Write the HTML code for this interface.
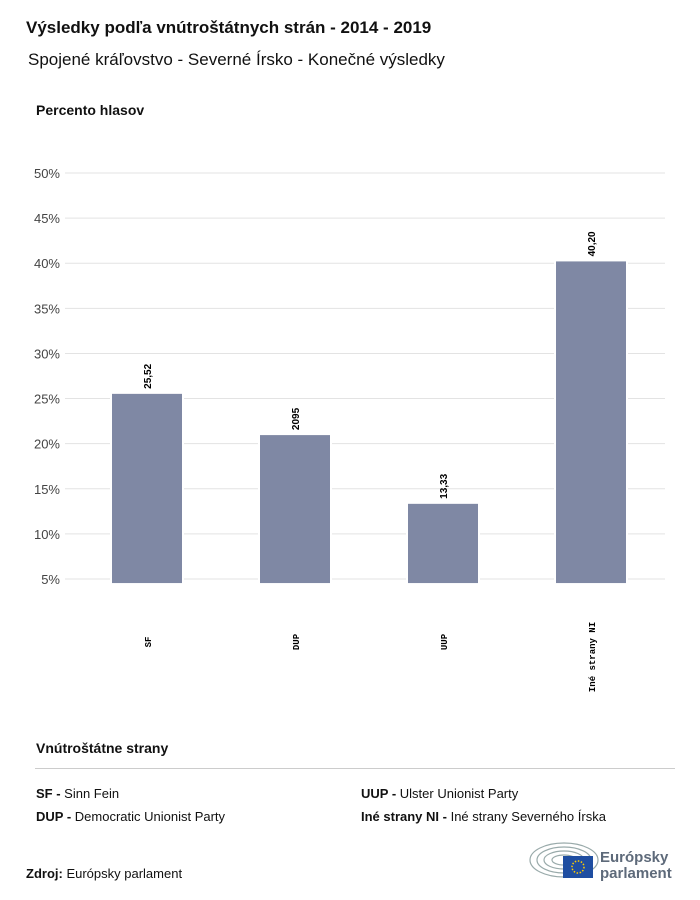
<!DOCTYPE html>
<html><head><meta charset="utf-8">
<style>
body{margin:0;background:#fff;font-family:"Liberation Sans",sans-serif;color:#111;}
#wrap{position:relative;width:700px;height:900px;overflow:hidden;}
.t{position:absolute;white-space:nowrap;}
</style></head>
<body>
<div id="wrap">
<div class="t" style="left:26px;top:18px;font-size:17px;font-weight:bold;">Výsledky podľa vnútroštátnych strán - 2014 - 2019</div>
<div class="t" style="left:28px;top:50px;font-size:17px;">Spojené kráľovstvo - Severné Írsko - Konečné výsledky</div>
<div class="t" style="left:36px;top:102px;font-size:14px;font-weight:bold;">Percento hlasov</div>
<svg id="chart" width="700" height="720" style="position:absolute;left:0;top:0"></svg>
<div class="t" style="left:36px;top:740px;font-size:14px;font-weight:bold;">Vnútroštátne strany</div>
<div style="position:absolute;left:35px;top:768px;width:640px;height:1px;background:#ccc;"></div>
<div class="t" style="left:36px;top:786px;font-size:13px;"><b>SF -</b> Sinn Fein</div>
<div class="t" style="left:36px;top:809px;font-size:13px;"><b>DUP -</b> Democratic Unionist Party</div>
<div class="t" style="left:361px;top:786px;font-size:13px;"><b>UUP -</b> Ulster Unionist Party</div>
<div class="t" style="left:361px;top:809px;font-size:13px;"><b>Iné strany NI -</b> Iné strany Severného Írska</div>
<div class="t" style="left:26px;top:866px;font-size:13px;"><b>Zdroj:</b> Európsky parlament</div>
<svg width="150" height="44" style="position:absolute;left:528px;top:840px">
 <g fill="none" stroke="#9aa" stroke-width="1.2">
  <ellipse cx="36" cy="20" rx="34" ry="17"/><ellipse cx="36" cy="20" rx="27" ry="13"/><ellipse cx="36" cy="20" rx="20" ry="9"/><ellipse cx="36" cy="20" rx="12" ry="5"/>
 </g>
 <rect x="35" y="16" width="30" height="22" fill="#1f4ea1"/>
 <circle cx="50" cy="27" r="6" fill="none" stroke="#fc0" stroke-width="1.5" stroke-dasharray="1.5 1.6"/>
 <text x="72" y="22" font-size="15" font-weight="bold" fill="#5e6a7a" font-family="Liberation Sans,sans-serif">Európsky</text>
 <text x="72" y="38" font-size="15" font-weight="bold" fill="#5e6a7a" font-family="Liberation Sans,sans-serif">parlament</text>
</svg>
</div>
<script>
const categories=["SF","DUP","UUP","Iné strany NI"];
const values=[25.52,20.95,13.33,40.20];
const valueLabels=["25,52","2095","13,33","40,20"];
const yTicks=[5,10,15,20,25,30,35,40,45,50];
const yTickLabels=["5%","10%","15%","20%","25%","30%","35%","40%","45%","50%"];
const NS="http://www.w3.org/2000/svg";
const svg=document.getElementById('chart');
function y(v){return 579-(v-5)*(406/45);}
function xc(i){return 147+i*148;}
const base=4.55;
function mk(t,a){const e=document.createElementNS(NS,t);for(const k in a)e.setAttribute(k,a[k]);svg.appendChild(e);return e;}
yTicks.forEach((v,i)=>{
 const l=mk('line',{x1:65,x2:665,y1:y(v),y2:y(v),stroke:'#e3e3e3','stroke-width':1});
 
 
 const t=mk('text',{x:60,y:y(v)+5,'text-anchor':'end','font-size':13,fill:'#444'});
 t.textContent=yTickLabels[i];
 
 
});
categories.forEach((c,i)=>{
 const x=xc(i)-35;
 mk('rect',{x:x-2,y:y(values[i]),width:74,height:y(base)-y(values[i]),fill:'#fff'});
 const r=mk('rect',{x:x,y:y(values[i]),width:70,height:y(base)-y(values[i]),fill:'#7f88a4'});
 
 
 const vy=y(values[i])-5;
 const vl=mk('text',{x:0,y:0,transform:`translate(${xc(i)+4},${vy}) rotate(-90)`,'font-size':10,'font-weight':'bold','font-family':'Liberation Sans Narrow,Liberation Sans,sans-serif'});
 vl.textContent=valueLabels[i];
 
 
 const cl=mk('text',{x:0,y:0,transform:`translate(${xc(i)+4},${i==3?657:642}) rotate(-90)`,'text-anchor':'middle','font-size':9,'font-weight':'bold','font-family':'Liberation Mono,monospace'});
 cl.textContent=c;
 
 
});
</script>
</body></html>
